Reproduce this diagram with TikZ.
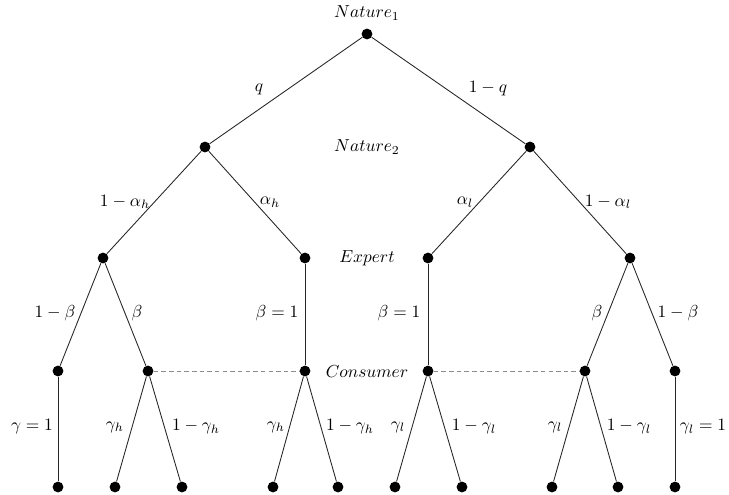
\documentclass[tikz,border=0pt]{standalone}
\begin{document}
\begin{tikzpicture}[x=0.575pt,y=-0.575pt,
  dot/.style={circle,fill=black,inner sep=0pt,minimum size=6.2pt},
  edge/.style={draw=black!85,line width=0.5pt},
  info/.style={draw=black!45,line width=0.5pt,dash pattern=on 2.6pt off 1.8pt},
  lbl/.style={inner sep=0pt,font=\normalsize},
  pl/.style={inner sep=0pt}]
\useasboundingbox (0,0) rectangle (729,495);
% nodes
\node[dot] (r) at (367,34) {};
\node[dot] (a) at (205,147) {};
\node[dot] (b) at (530,147) {};
\node[dot] (a1) at (103,258) {};
\node[dot] (a2) at (305,258) {};
\node[dot] (b1) at (428,258) {};
\node[dot] (b2) at (630,258) {};
\node[dot] (c1) at (58,371) {};
\node[dot] (c2) at (148,371) {};
\node[dot] (c3) at (305,371) {};
\node[dot] (c4) at (428,371) {};
\node[dot] (c5) at (585,371) {};
\node[dot] (c6) at (675,371) {};
\node[dot] (d1) at (58,487) {};
\node[dot] (d2) at (115,487) {};
\node[dot] (d3) at (182,487) {};
\node[dot] (d4) at (273,487) {};
\node[dot] (d5) at (338,487) {};
\node[dot] (d6) at (395,487) {};
\node[dot] (d7) at (462,487) {};
\node[dot] (d8) at (552,487) {};
\node[dot] (d9) at (618,487) {};
\node[dot] (d10) at (675,487) {};
% player labels
\node[pl] (p1) at (367,13) {$Nature_1$};
\node[pl] (p2) at (367,147) {$Nature_2$};
\node[pl] (p3) at (367,258) {$Expert$};
\node[pl] (p4) at (367,372) {$Consumer$};
% edges
\draw[edge] (r) -- (a);
\draw[edge] (r) -- (b);
\draw[edge] (a) -- (a1);
\draw[edge] (a) -- (a2);
\draw[edge] (b) -- (b1);
\draw[edge] (b) -- (b2);
\draw[edge] (a1) -- (c1);
\draw[edge] (a1) -- (c2);
\draw[edge] (a2) -- (c3);
\draw[edge] (b1) -- (c4);
\draw[edge] (b2) -- (c5);
\draw[edge] (b2) -- (c6);
\draw[edge] (c1) -- (d1);
\draw[edge] (c2) -- (d2);
\draw[edge] (c2) -- (d3);
\draw[edge] (c3) -- (d4);
\draw[edge] (c3) -- (d5);
\draw[edge] (c4) -- (d6);
\draw[edge] (c4) -- (d7);
\draw[edge] (c5) -- (d8);
\draw[edge] (c5) -- (d9);
\draw[edge] (c6) -- (d10);
% information sets
\draw[info] (c2) -- (c3);
\draw[info] (c4) -- (c5);
% edge labels
\node[lbl] (l1) at (259,89) {$q$};
\node[lbl] (l2) at (488,89) {$1-q$};
\node[lbl] (l3) at (125,202) {$1-\alpha_h$};
\node[lbl] (l4) at (270,202) {$\alpha_h$};
\node[lbl] (l5) at (465,202) {$\alpha_l$};
\node[lbl] (l6) at (608,202) {$1-\alpha_l$};
\node[lbl] (l7) at (55,313) {$1-\beta$};
\node[lbl] (l8) at (137,313) {$\beta$};
\node[lbl] (l9) at (277,313) {$\beta=1$};
\node[lbl] (l10) at (399,313) {$\beta=1$};
\node[lbl] (l11) at (597,313) {$\beta$};
\node[lbl] (l12) at (678,313) {$1-\beta$};
\node[lbl] (m1) at (32,427) {$\gamma=1$};
\node[lbl] (m2) at (115,427) {$\gamma_h$};
\node[lbl] (m3) at (196,427) {$1-\gamma_h$};
\node[lbl] (m4) at (276,427) {$\gamma_h$};
\node[lbl] (m5) at (350,427) {$1-\gamma_h$};
\node[lbl] (m6) at (398,427) {$\gamma_l$};
\node[lbl] (m7) at (474,427) {$1-\gamma_l$};
\node[lbl] (m8) at (555,427) {$\gamma_l$};
\node[lbl] (m9) at (629,427) {$1-\gamma_l$};
\node[lbl] (m10) at (703,427) {$\gamma_l=1$};
\end{tikzpicture}
\end{document}
